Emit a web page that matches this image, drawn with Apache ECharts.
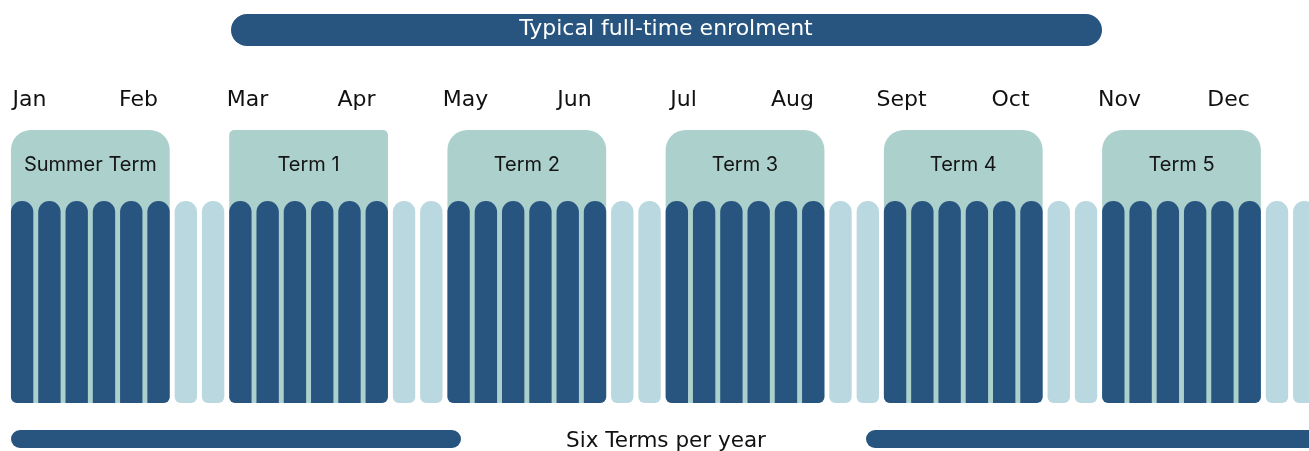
<!DOCTYPE html>
<html>
<head>
<meta charset="utf-8">
<script src="https://cdn.jsdelivr.net/npm/echarts@6/dist/echarts.min.js"></script>
<style>
  html, body { margin: 0; padding: 0; background: #ffffff; }
  #chart { width: 1309px; height: 451px; }
</style>
</head>
<body>
<div id="chart"></div>
<script>
// ---------- DATA ----------
const months = ['Jan', 'Feb', 'Mar', 'Apr', 'May', 'Jun', 'Jul', 'Aug', 'Sept', 'Oct', 'Nov', 'Dec'];
const weeks = ['W1','W2','W3','W4','W5','W6','W7','W8','W9','W10','W11','W12',
  'W13','W14','W15','W16','W17','W18','W19','W20','W21','W22','W23','W24',
  'W25','W26','W27','W28','W29','W30','W31','W32','W33','W34','W35','W36',
  'W37','W38','W39','W40','W41','W42','W43','W44','W45','W46','W47','W48'];
// 1 = teaching week, '-' = none
const termWeekValues = [
  1,1,1,1,1,1,'-','-',
  1,1,1,1,1,1,'-','-',
  1,1,1,1,1,1,'-','-',
  1,1,1,1,1,1,'-','-',
  1,1,1,1,1,1,'-','-',
  1,1,1,1,1,1,'-','-'
];
const breakWeekValues = [
  '-','-','-','-','-','-',1,1,
  '-','-','-','-','-','-',1,1,
  '-','-','-','-','-','-',1,1,
  '-','-','-','-','-','-',1,1,
  '-','-','-','-','-','-',1,1,
  '-','-','-','-','-','-',1,1
];
const termNames = ['Summer Term', 'Term 1', 'Term 2', 'Term 3', 'Term 4', 'Term 5'];
const termStartWeek = [0, 8, 16, 24, 32, 40];
const termEndWeek = [5, 13, 21, 29, 37, 45];
const panelValue = 1.3515;
const bannerText = 'Typical full-time enrolment';
const footerText = 'Six Terms per year';

// ---------- STYLE ----------
const DARK = '#285580';
const TEAL = '#acd0cc';
const LIGHT = '#bad8df';
const panelTopRadius = [20, 5, 20, 20, 20, 20];
const BAR_RATIO = 0.82;
const WIDE_FONT = '"DejaVu Sans", "Open Sans", sans-serif';

const chart = echarts.init(document.getElementById('chart'), null, { renderer: 'canvas' });

const termData = termWeekValues.map((v, i) => {
  if (v === '-') return '-';
  let r = [11, 11, 0, 0];
  if (termStartWeek.indexOf(i) >= 0) r = [11, 11, 0, 6];
  if (termEndWeek.indexOf(i) >= 0) r = [11, 11, 6, 0];
  return { value: v, itemStyle: { borderRadius: r } };
});

const panelData = termNames.map((n, i) => [termStartWeek[i], termEndWeek[i], panelValue, n, i]);

const option = {
  animation: false,
  backgroundColor: '#ffffff',
  grid: [
    { left: 8.5, width: 1309.4, top: 130, bottom: 48, outerBoundsMode: 'none', containLabel: false },
    { left: -25, width: 1308, top: 100, height: 10, outerBoundsMode: 'none', containLabel: false }
  ],
  xAxis: [
    {
      type: 'category', data: weeks, gridIndex: 0,
      axisLine: { show: false }, axisTick: { show: false }, axisLabel: { show: false }
    },
    {
      type: 'category', data: months, gridIndex: 1, position: 'top',
      axisLine: { show: false }, axisTick: { show: false },
      axisLabel: {
        margin: 0, verticalAlign: 'middle', color: '#111111',
        fontFamily: WIDE_FONT, fontSize: 22
      }
    }
  ],
  yAxis: [
    { type: 'value', gridIndex: 0, min: 0, max: panelValue, show: false },
    { type: 'value', gridIndex: 1, show: false }
  ],
  series: [
    {
      type: 'custom',
      xAxisIndex: 0, yAxisIndex: 0,
      z: 1,
      clip: false,
      data: panelData,
      encode: { x: [0, 1], y: 2 },
      renderItem: function (params, api) {
        const band = api.size([1, 0])[0];
        const bw = band * BAR_RATIO;
        const p0 = api.coord([api.value(0), api.value(2)]);
        const p1 = api.coord([api.value(1), 0]);
        const x0 = p0[0] - bw / 2;
        const x1 = p1[0] + bw / 2;
        const idx = api.value(4);
        const r = panelTopRadius[idx];
        return {
          type: 'group',
          children: [
            {
              type: 'rect',
              shape: { x: x0, y: p0[1], width: x1 - x0, height: p1[1] - p0[1], r: [r, r, 6, 6] },
              style: { fill: TEAL }
            },
            {
              type: 'text',
              style: {
                x: (x0 + x1) / 2, y: p0[1] + 35,
                text: termNames[idx],
                align: 'center', verticalAlign: 'middle',
                fill: '#151515', fontSize: 20,
                fontFamily: 'Inter, "Noto Sans", sans-serif'
              }
            }
          ]
        };
      }
    },
    {
      type: 'bar', xAxisIndex: 0, yAxisIndex: 0, z: 3,
      data: termData,
      barWidth: (BAR_RATIO * 100) + '%',
      barGap: '-100%',
      itemStyle: { color: DARK }
    },
    {
      type: 'bar', xAxisIndex: 0, yAxisIndex: 0, z: 3,
      data: breakWeekValues,
      barWidth: (BAR_RATIO * 100) + '%',
      barGap: '-100%',
      itemStyle: { color: LIGHT, borderRadius: [11, 11, 6, 6] }
    }
  ],
  graphic: [
    {
      type: 'rect', left: 231, top: 14,
      shape: { width: 871, height: 32, r: 16 },
      style: { fill: DARK }
    },
    {
      type: 'text', x: 666, y: 29,
      style: {
        text: bannerText, fill: '#ffffff', align: 'center', verticalAlign: 'middle',
        fontSize: 22, fontFamily: WIDE_FONT
      }
    },
    {
      type: 'rect', left: 11, top: 430,
      shape: { width: 450, height: 18, r: 9 },
      style: { fill: DARK }
    },
    {
      type: 'rect', left: 866, top: 430,
      shape: { width: 470, height: 18, r: 9 },
      style: { fill: DARK }
    },
    {
      type: 'text', x: 666, y: 441,
      style: {
        text: footerText, fill: '#111111', align: 'center', verticalAlign: 'middle',
        fontSize: 21.5, fontFamily: WIDE_FONT
      }
    }
  ]
};

chart.setOption(option);
</script>
</body>
</html>
